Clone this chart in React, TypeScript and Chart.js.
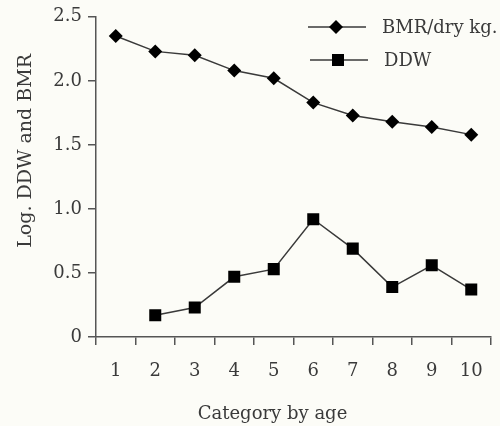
import React, { useEffect, useRef } from "react";
import { Chart, registerables } from "chart.js";

Chart.register(...registerables);

const CATEGORIES = ["1", "2", "3", "4", "5", "6", "7", "8", "9", "10"];
const BMR_VALUES = [2.35, 2.23, 2.2, 2.08, 2.02, 1.83, 1.73, 1.68, 1.64, 1.58];
const DDW_VALUES = [null, 0.17, 0.23, 0.47, 0.53, 0.92, 0.69, 0.39, 0.56, 0.37];
const SERIES_LABELS = ["BMR/dry kg.", "DDW"];
const Y_TITLE = "Log. DDW and BMR";
const X_TITLE = "Category by age";

const FONT = "'DejaVu Serif', 'Liberation Serif', serif";
const TEXT = "#3a3a3a";
const LINE = "#3a3a3a";
const AXIS = "#555555";

function drawMarker(ctx: CanvasRenderingContext2D, style: string, x: number, y: number, r: number) {
  ctx.beginPath();
  if (style === "rectRot") {
    ctx.moveTo(x, y - r);
    ctx.lineTo(x + r, y);
    ctx.lineTo(x, y + r);
    ctx.lineTo(x - r, y);
  } else {
    const s = r * Math.SQRT1_2;
    ctx.rect(x - s, y - s, 2 * s, 2 * s);
  }
  ctx.closePath();
  ctx.fill();
}

const inlineLegend = {
  id: "inlineLegend",
  afterDraw(chart: any) {
    const ctx: CanvasRenderingContext2D = chart.ctx;
    const rows = [
      { y: 27, x0: 308, x1: 366, mx: 336, tx: 382 },
      { y: 60, x0: 310, x1: 368, mx: 338, tx: 384 },
    ];
    ctx.save();
    chart.data.datasets.forEach((ds: any, i: number) => {
      const r = rows[i];
      ctx.strokeStyle = ds.borderColor;
      ctx.lineWidth = ds.borderWidth;
      ctx.beginPath();
      ctx.moveTo(r.x0, r.y);
      ctx.lineTo(r.x1, r.y);
      ctx.stroke();
      ctx.fillStyle = ds.pointBackgroundColor;
      drawMarker(ctx, ds.pointStyle, r.mx, r.y, ds.pointRadius);
      ctx.fillStyle = TEXT;
      ctx.font = `18px ${FONT}`;
      ctx.textBaseline = "middle";
      ctx.textAlign = "left";
      ctx.fillText(ds.label, r.tx, r.y + 1);
    });
    ctx.restore();
  },
};

const axisTitles = {
  id: "axisTitles",
  afterDraw(chart: any) {
    const ctx: CanvasRenderingContext2D = chart.ctx;
    const area = chart.chartArea;
    ctx.save();
    ctx.fillStyle = TEXT;
    ctx.textAlign = "center";
    ctx.textBaseline = "middle";
    // x-axis title
    ctx.font = `18px ${FONT}`;
    ctx.fillText(X_TITLE, (area.left + area.right) / 2 - 21, 414);
    // y-axis title (rotated)
    ctx.font = `19px ${FONT}`;
    ctx.translate(26, (area.top + area.bottom) / 2 - 26);
    ctx.rotate(-Math.PI / 2);
    ctx.fillText(Y_TITLE, 0, 0);
    ctx.restore();
  },
};

export default function App() {
  const ref = useRef<HTMLCanvasElement | null>(null);
  useEffect(() => {
    if (!ref.current) return;
    const chart = new Chart(ref.current, {
      type: "line",
      data: {
        labels: CATEGORIES,
        datasets: [
          {
            label: SERIES_LABELS[0],
            data: BMR_VALUES,
            borderColor: LINE,
            borderWidth: 1.5,
            pointStyle: "rectRot",
            pointRadius: 7,
            pointBackgroundColor: "#000",
            pointBorderColor: "#000",
            pointBorderWidth: 0,
            tension: 0,
          },
          {
            label: SERIES_LABELS[1],
            data: DDW_VALUES,
            borderColor: LINE,
            borderWidth: 1.5,
            pointStyle: "rect",
            pointRadius: 8.5,
            pointBackgroundColor: "#000",
            pointBorderColor: "#000",
            pointBorderWidth: 0,
            tension: 0,
          },
        ],
      },
      options: {
        responsive: true,
        maintainAspectRatio: false,
        animation: false,
        layout: { padding: { top: 15, right: 9, left: 0, bottom: 0 } },
        plugins: { legend: { display: false }, tooltip: { enabled: false } },
        scales: {
          x: {
            type: "category",
            offset: true,
            grid: {
              offset: true,
              drawOnChartArea: false,
              drawTicks: true,
              tickLength: 8,
              color: AXIS,
              lineWidth: 1.5,
            },
            border: { display: true, color: AXIS, width: 1.5 },
            ticks: {
              color: TEXT,
              font: { family: FONT, size: 18 },
              padding: 16,
              maxRotation: 0,
            },
            afterFit: (s: any) => {
              s.height = 89;
            },
          },
          y: {
            min: 0,
            max: 2.5,
            ticks: {
              stepSize: 0.5,
              color: TEXT,
              font: { family: FONT, size: 18 },
              padding: 6,
              callback: (v: any) => (Number(v) === 0 ? "0" : Number(v).toFixed(1)),
            },
            grid: {
              drawOnChartArea: false,
              drawTicks: true,
              tickLength: 8,
              color: AXIS,
              lineWidth: 1.5,
            },
            border: { display: true, color: AXIS, width: 1.5 },
            afterFit: (s: any) => {
              s.width = 96;
            },
          },
        },
      },
      plugins: [inlineLegend, axisTitles],
    });
    return () => chart.destroy();
  }, []);
  return (
    <div
      style={{
        position: "fixed",
        left: 0,
        top: 0,
        width: 500,
        height: 426,
        background: "#fcfcf7",
      }}
    >
      <canvas ref={ref} />
    </div>
  );
}
